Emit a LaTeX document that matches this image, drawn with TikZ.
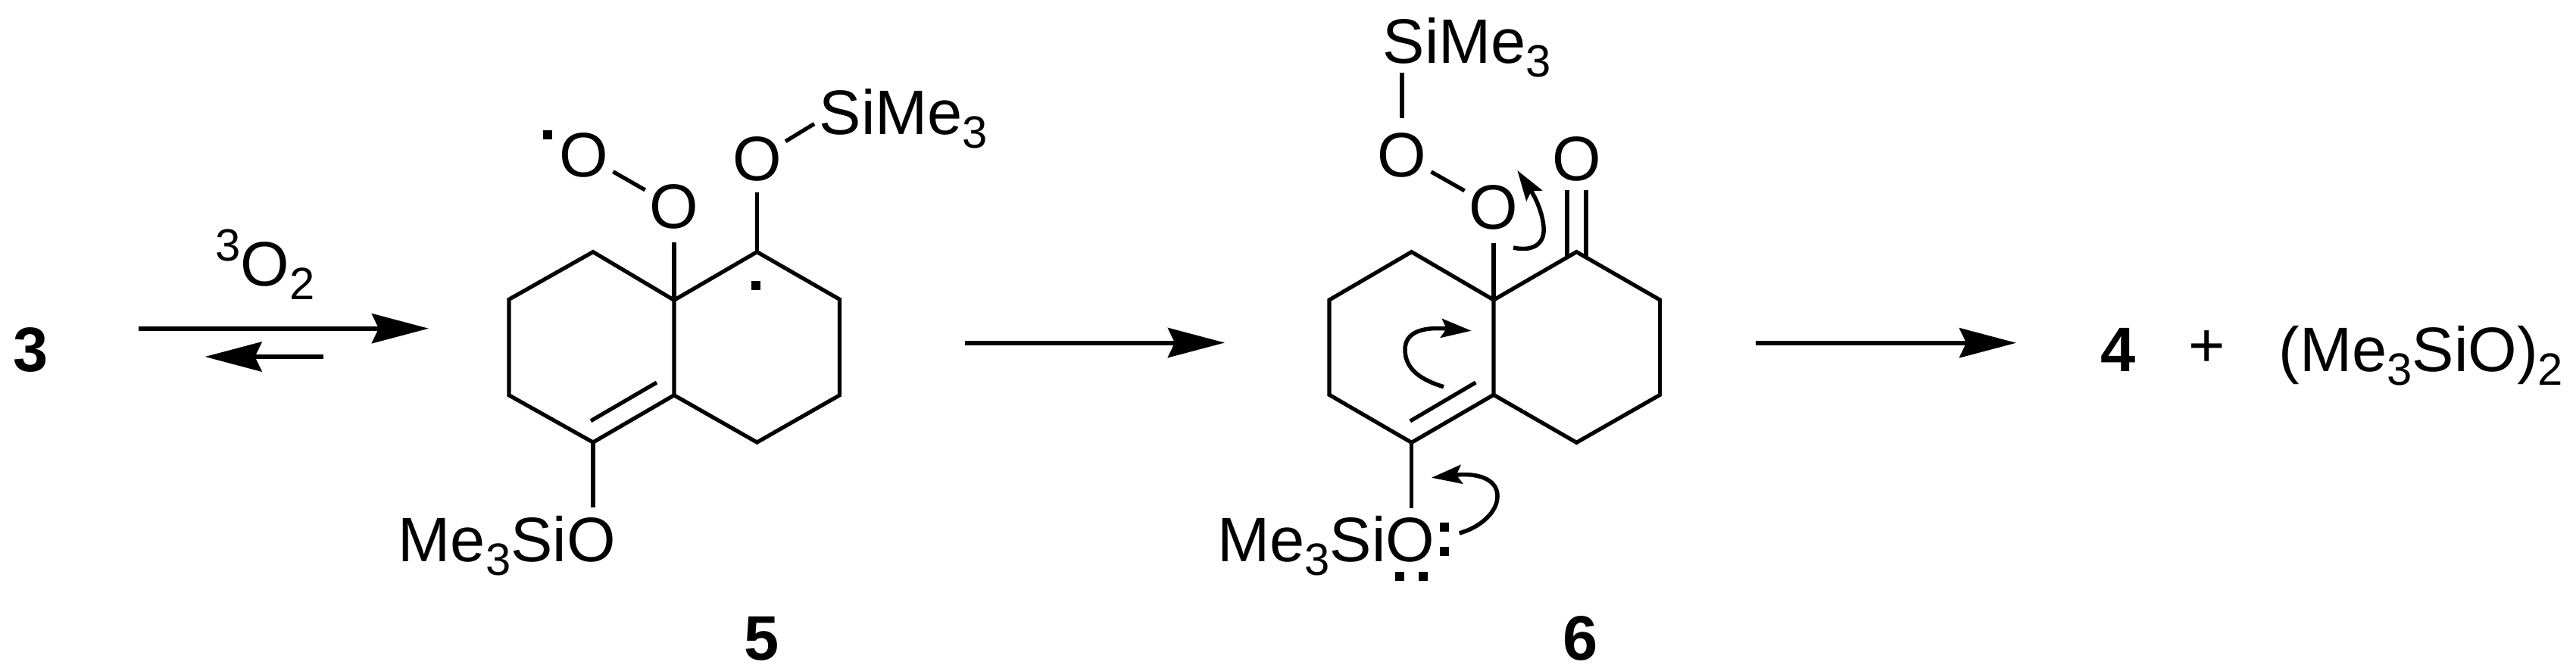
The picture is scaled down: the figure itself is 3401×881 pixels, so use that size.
\documentclass[tikz,border=0pt]{standalone}
\usepackage{fontspec}
\setmainfont{Liberation Sans}
\usetikzlibrary{arrows.meta}
\newcommand{\chemfont}{\fontsize{23.6}{28}\selectfont}
\newcommand{\chemsub}[1]{\raisebox{-0.18cm}{\fontsize{17}{20}\selectfont #1}}
\newcommand{\chemsup}[1]{\raisebox{0.32cm}{\fontsize{17}{20}\selectfont #1}}
\tikzset{
        bond/.style={draw=black, line width=0.052cm, line join=miter},
        rxn/.style={draw=black, line width=0.06cm, -{Stealth[length=0.75cm, width=0.39cm, inset=0.09cm]}},
        pushing/.style={draw=black, line width=0.055cm, -{Stealth[length=0.40cm, width=0.25cm, inset=0.07cm]}},
        atom/.style={circle, inner sep=0pt, minimum size=0.84cm, font=\chemfont},
        chemtext/.style={anchor=base west, inner sep=0pt, font=\chemfont},
        num/.style={anchor=base, inner sep=0pt, font=\chemfont\bfseries},
        spot/.style={rectangle, fill=black, inner sep=0pt, minimum size=0.12cm}
          }
\begin{document}
\begin{tikzpicture}[x=0.01cm, y=-0.01cm]
  \useasboundingbox (0,0) rectangle (3401,881);
  \node[num] (three) at (40.5,490) {3};
  \node[chemtext] (dioxygen) at (284,377) {\chemsup{3}O\chemsub{2}};
  \coordinate (fwdA) at (183,433.7);
  \coordinate (fwdB) at (566,433.7);
  \coordinate (revA) at (427,471);
  \coordinate (revB) at (270.5,471);
  \draw[rxn] (fwdA) -- (fwdB);
  \draw[rxn] (revA) -- (revB);

  \coordinate (a1) at (890,396.3);
  \coordinate (a2) at (783,332.6);
  \coordinate (a3) at (672,395.3);
  \coordinate (a4) at (672,521.8);
  \coordinate (a5) at (783,584);
  \coordinate (a6) at (890,521.8);
  \coordinate (a7) at (999.4,332.6);
  \coordinate (a8) at (1108.5,395.3);
  \coordinate (a9) at (1108.5,521.8);
  \coordinate (a10) at (999.4,584);
  \coordinate (aInA) at (867,505);
  \coordinate (aInB) at (780,555.7);
  \draw[bond] (a1) -- (a2) -- (a3) -- (a4) -- (a5) -- (a6) -- (a10) -- (a9) -- (a8) -- (a7) -- (a1) -- (a6);
  \draw[bond] (aInA) -- (aInB);
  \node[atom] (aO1) at (890,272.8) {O};
  \node[atom] (aO2) at (771,204.6) {O};
  \node[atom] (aO3) at (999.4,209.6) {O};
  \node[spot] (aDot1) at (722.7,178) {};
  \node[spot] (aDot2) at (997.7,377.4) {};
  \node[chemtext] (aSi) at (1081,177.5) {SiMe\chemsub{3}};
  \node[chemtext] (aSiO) at (525,741) {Me\chemsub{3}SiO};
  \coordinate (aSiEnd) at (1075,163.5);
  \coordinate (aOEnd) at (783,670);
  \draw[bond, shorten >=0.03cm] (a1) -- (aO1);
  \draw[bond] (aO1) -- (aO2);
  \draw[bond] (a7) -- (aO3);
  \draw[bond] (aO3) -- (aSiEnd);
  \draw[bond] (a5) -- (aOEnd);
  \node[num] (five) at (1006,871) {5};

  \coordinate (mid1A) at (1274,452.5);
  \coordinate (mid1B) at (1617,452.5);
  \draw[rxn] (mid1A) -- (mid1B);

  \coordinate (b1) at (1972,396);
  \coordinate (b2) at (1863.6,332.6);
  \coordinate (b3) at (1755,396);
  \coordinate (b4) at (1755,521.3);
  \coordinate (b5) at (1863.6,584.3);
  \coordinate (b6) at (1972,521.3);
  \coordinate (b7) at (2081.4,332.6);
  \coordinate (b8) at (2191.6,396);
  \coordinate (b9) at (2191.6,521.3);
  \coordinate (b10) at (2081.4,584.3);
  \coordinate (bInA) at (1948.3,505);
  \coordinate (bInB) at (1861.7,556);
  \draw[bond] (b1) -- (b2) -- (b3) -- (b4) -- (b5) -- (b6) -- (b10) -- (b9) -- (b8) -- (b7) -- (b1) -- (b6);
  \draw[bond] (bInA) -- (bInB);
  \node[atom] (bO1) at (1972,273.6) {O};
  \node[atom] (bO2) at (1851,205) {O};
  \node[atom] (bO3) at (2081.4,209.6) {O};
  \node[chemtext] (bSi) at (1825,83) {SiMe\chemsub{3}};
  \node[chemtext] (bSiO) at (1606.5,741) {Me\chemsub{3}SiO};
  \coordinate (bSiEnd) at (1851,95.5);
  \coordinate (bOEnd) at (1863.6,670.5);
  \coordinate (bCarbA) at (2069,251);
  \coordinate (bCarbB) at (2094,251);
  \coordinate (bRingA) at (2069,340);
  \coordinate (bRingB) at (2094,340);
  \draw[bond, shorten >=0.03cm] (b1) -- (bO1);
  \draw[bond] (bO1) -- (bO2);
  \draw[bond, shorten <=0.05cm] (bO2) -- (bSiEnd);
  \draw[bond] (bCarbA) -- (bRingA);
  \draw[bond] (bCarbB) -- (bRingB);
  \draw[bond] (b5) -- (bOEnd);
  \node[spot] (bDot1) at (1907,695.7) {};
  \node[spot] (bDot2) at (1907,728) {};
  \node[spot] (bDot3) at (1848,760.7) {};
  \node[spot] (bDot4) at (1879,760.7) {};
  \node[num] (six) at (2087,871) {6};

  \coordinate (pushA) at (1998,327);
  \coordinate (pushAend) at (2003.3,225);
  \coordinate (pushB) at (1906,510.7);
  \coordinate (pushBend) at (1942.7,436.7);
  \coordinate (pushC) at (1926.7,704);
  \coordinate (pushCend) at (1890,630.7);
  \draw[pushing] (pushA) .. controls (2020,332) and (2040,325) .. (2038,300) .. controls (2037,285) and (2030,265) .. (pushAend);
  \draw[pushing] (pushB) .. controls (1877,502) and (1855,488) .. (1855,461.7) .. controls (1855,440) and (1875,431) .. (pushBend);
  \draw[pushing] (pushC) .. controls (1955,696) and (1977,676) .. (1977,655) .. controls (1977,632) and (1950,624) .. (pushCend);

  \coordinate (mid2A) at (2318,452.7);
  \coordinate (mid2B) at (2662,452.7);
  \draw[rxn] (mid2A) -- (mid2B);
  \node[num] (four) at (2796.5,490) {4};
  \node[font=\chemfont, inner sep=0pt] (plus) at (2914,460.5) {+};
  \node[chemtext] (silox) at (3008,490) {(Me\chemsub{3}SiO)\chemsub{2}};
\end{tikzpicture}
\end{document}
